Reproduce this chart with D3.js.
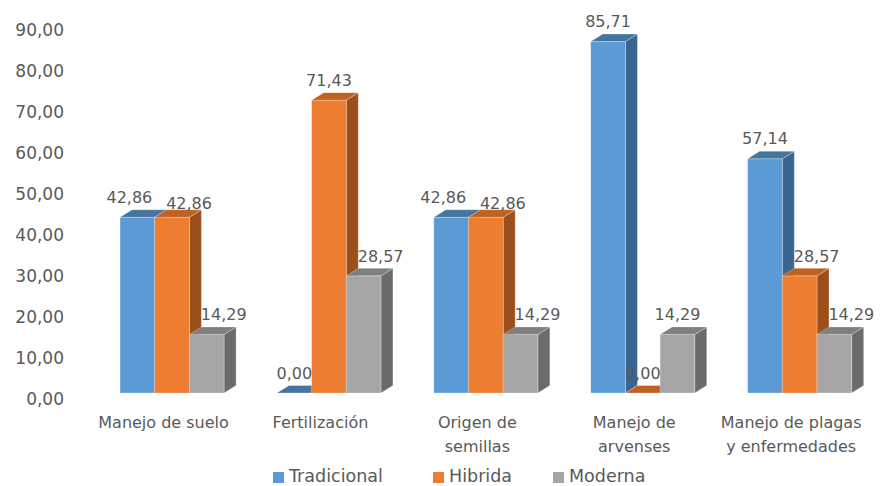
<!DOCTYPE html>
<html>
<head>
<meta charset="utf-8">
<script src="https://cdn.jsdelivr.net/npm/d3@7"></script>
<style>
  html, body { margin: 0; padding: 0; background: #fff; }
  svg { display: block; }
  text { font-family: "DejaVu Sans", sans-serif; fill: #595959; }
</style>
</head>
<body>
<svg id="chart" width="883" height="486"></svg>
<script>
// ---- data ----
const categories = [
  ["Manejo de suelo"],
  ["Fertilización"],
  ["Origen de", "semillas"],
  ["Manejo de", "arvenses"],
  ["Manejo de plagas", "y enfermedades"]
];
const seriesNames = ["Tradicional", "Hibrida", "Moderna"];
const tradicional = [42.86, 0.00, 42.86, 85.71, 57.14];
const hibrida     = [42.86, 71.43, 42.86, 0.00, 28.57];
const moderna     = [14.29, 28.57, 14.29, 14.29, 14.29];
const yTicks = [0, 10, 20, 30, 40, 50, 60, 70, 80, 90];

// ---- styles ----
const seriesValues = [tradicional, hibrida, moderna];
const colors = {
  front: ["#5b9bd5", "#ed7d31", "#a5a5a5"],
  top:   ["#44749f", "#c0611f", "#7f7f7f"],
  side:  ["#3a6590", "#9b4f1b", "#6b6b6b"]
};
const DX = 12, DY = 7.5;
const edge = "rgba(255,255,255,0.35)";

const svg = d3.select("#chart");
const fmt = v => d3.format(".2f")(v).replace(".", ",");

const catIdx = d3.range(categories.length);
const x0 = d3.scaleBand().domain(catIdx).range([93.6, 878.1])
  .paddingInner(0.337).paddingOuter(0.1685);
const x1 = d3.scaleBand().domain(d3.range(seriesNames.length)).range([0, x0.bandwidth()]);
const y = d3.scaleLinear().domain([0, 90]).range([393, 24]);

// y axis labels
const yAxis = d3.axisLeft(y).tickValues(yTicks).tickSize(0).tickPadding(0).tickFormat(fmt);
const ag = svg.append("g").attr("transform", "translate(64,6)").call(yAxis);
ag.select(".domain").remove();
ag.selectAll("text").attr("font-size", 17).attr("font-family", "DejaVu Sans, sans-serif").attr("fill", "#595959");

// bars
const y0 = y(0);
catIdx.forEach(i => {
  seriesValues.forEach((vals, s) => {
    const v = vals[i];
    const x = x0(i) + x1(s);
    const w = x1.bandwidth();
    const yt = y(v);
    const g = svg.append("g");
    // side
    g.append("polygon")
      .attr("points", [[x + w, yt], [x + w + DX, yt - DY], [x + w + DX, y0 - DY], [x + w, y0]].join(" "))
      .attr("fill", colors.side[s]).attr("stroke", edge).attr("stroke-width", 0.8);
    // front
    g.append("rect").attr("x", x).attr("y", yt).attr("width", w).attr("height", y0 - yt)
      .attr("fill", colors.front[s]).attr("stroke", edge).attr("stroke-width", 0.8);
    // top
    g.append("polygon")
      .attr("points", [[x, yt], [x + w, yt], [x + w + DX, yt - DY], [x + DX, yt - DY]].join(" "))
      .attr("fill", colors.top[s]).attr("stroke", edge).attr("stroke-width", 0.8);
  });
});

// data labels
catIdx.forEach(i => {
  seriesValues.forEach((vals, s) => {
    const v = vals[i];
    const prev = s > 0 ? seriesValues[s - 1][i] : null;
    const next = s < seriesValues.length - 1 ? seriesValues[s + 1][i] : null;
    let dx = 0, dy = 0;
    if (v > 0) {
      if (prev !== null && prev > 0 && prev >= v) { dx = 17; if (prev === v) dy = 6; }
      else if (next !== null && next >= v) { dx = -8; }
    }
    const cx = x0(i) + x1(s) + x1.bandwidth() / 2 + dx;
    svg.append("text")
      .attr("x", cx).attr("y", y(v) - 20 + dy)
      .attr("dy", "0.36em")
      .attr("text-anchor", "middle")
      .attr("font-size", 16)
      .text(fmt(v));
  });
});

// category labels
catIdx.forEach(i => {
  const cx = x0(i) + x0.bandwidth() / 2 - 8.5;
  categories[i].forEach((line, k) => {
    svg.append("text")
      .attr("x", cx).attr("y", 422.7 + k * 24)
      .attr("dy", "0.36em")
      .attr("text-anchor", "middle")
      .attr("font-size", 16)
      .text(line);
  });
});

// legend
const legendX = [273, 433, 553];
const leg = svg.append("g");
seriesNames.forEach((name, s) => {
  leg.append("rect").attr("x", legendX[s]).attr("y", 472).attr("width", 11).attr("height", 11)
    .attr("fill", colors.front[s]);
  leg.append("text").attr("x", legendX[s] + 16).attr("y", 481.5)
    .attr("font-size", 17.5).text(name);
});
</script>
</body>
</html>
